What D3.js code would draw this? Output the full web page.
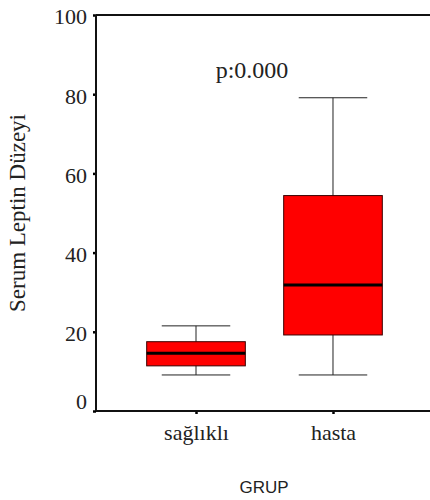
<!DOCTYPE html>
<html>
<head>
<meta charset="utf-8">
<script src="https://cdn.jsdelivr.net/npm/d3@7"></script>
<style>
  body { margin: 0; background: #fff; }
  svg { display: block; }
</style>
</head>
<body>
<svg id="chart"></svg>
<script>
// Box plot data
const groups = ["sağlıklı", "hasta"];
const whiskerLow = [9.1, 9.1];
const q1 = [11.4, 19.2];
const medians = [14.6, 31.8];
const q3 = [17.5, 54.4];
const whiskerHigh = [21.5, 79.1];
const yTicks = [0, 20, 40, 60, 80, 100];
const pText = "p:0.000";

const width = 430, height = 500;
const margin = { top: 15, right: 0, bottom: 89, left: 96 };
const serif = "'Liberation Serif', 'Times New Roman', serif";

const svg = d3.select("#chart")
  .attr("width", width)
  .attr("height", height);

const y = d3.scaleLinear()
  .domain([0, 100])
  .range([height - margin.bottom, margin.top]);

const x = d3.scalePoint()
  .domain(groups)
  .range([margin.left, 433])
  .padding(0.73);

const step = x.step();
const boxW = step * 0.72;
const capW = step * 0.5;

const boxes = groups.map((g, i) => ({
  g, lo: whiskerLow[i], q1: q1[i], med: medians[i], q3: q3[i], hi: whiskerHigh[i]
}));

// Whiskers
const bx = svg.append("g");
bx.selectAll(".whisker")
  .data(boxes)
  .join("line")
  .attr("x1", d => x(d.g)).attr("x2", d => x(d.g))
  .attr("y1", d => y(d.lo)).attr("y2", d => y(d.hi))
  .attr("stroke", "#222").attr("stroke-width", 1);

["lo", "hi"].forEach(k => {
  bx.selectAll(".cap-" + k)
    .data(boxes)
    .join("line")
    .attr("x1", d => x(d.g) - capW / 2).attr("x2", d => x(d.g) + capW / 2)
    .attr("y1", d => y(d[k])).attr("y2", d => y(d[k]))
    .attr("stroke", "#222").attr("stroke-width", 1);
});

// Boxes
bx.selectAll(".box")
  .data(boxes)
  .join("rect")
  .attr("x", d => x(d.g) - boxW / 2)
  .attr("width", boxW)
  .attr("y", d => y(d.q3))
  .attr("height", d => y(d.q1) - y(d.q3))
  .attr("fill", "#ff0000")
  .attr("stroke", "#3a0000")
  .attr("stroke-width", 1);

// Medians
bx.selectAll(".median")
  .data(boxes)
  .join("line")
  .attr("x1", d => x(d.g) - boxW / 2).attr("x2", d => x(d.g) + boxW / 2)
  .attr("y1", d => y(d.med)).attr("y2", d => y(d.med))
  .attr("stroke", "#000").attr("stroke-width", 3);

// Axes
const yAxis = svg.append("g")
  .attr("transform", `translate(${margin.left},0)`)
  .call(d3.axisLeft(y).tickValues(yTicks).tickSize(3).tickPadding(6));
yAxis.select(".domain").remove();
yAxis.selectAll(".tick line").attr("stroke", "#000").attr("stroke-width", 2.5);
yAxis.selectAll(".tick text")
  .attr("font-family", serif)
  .attr("font-size", 22)
  .attr("fill", "#222")
  .attr("dy", d => d === 0 ? "-0.1em" : "0.4em"); // zero label sits above the x axis

const xAxis = svg.append("g")
  .attr("transform", `translate(0,${y(0)})`)
  .call(d3.axisBottom(x).tickSize(3).tickPadding(10));
xAxis.select(".domain").remove();
xAxis.selectAll(".tick line").attr("stroke", "#000").attr("stroke-width", 2.5);
xAxis.selectAll(".tick text")
  .attr("font-family", serif)
  .attr("font-size", 22)
  .attr("fill", "#222");

// Frame lines: left, bottom, top
const frame = svg.append("g").attr("stroke", "#111").attr("stroke-width", 2);
frame.append("line")
  .attr("x1", margin.left).attr("x2", margin.left)
  .attr("y1", y(100)).attr("y2", y(0));
frame.append("line")
  .attr("x1", margin.left).attr("x2", width)
  .attr("y1", y(0)).attr("y2", y(0));
frame.append("line")
  .attr("x1", margin.left).attr("x2", width)
  .attr("y1", y(100)).attr("y2", y(100));

// Labels
svg.append("text")
  .attr("transform", `translate(25,${(y(0) + y(100)) / 2}) rotate(-90)`)
  .attr("text-anchor", "middle")
  .attr("font-family", serif)
  .attr("font-size", 23)
  .attr("fill", "#222")
  .text("Serum Leptin Düzeyi");

svg.append("text")
  .attr("x", 252)
  .attr("y", 78)
  .attr("text-anchor", "middle")
  .attr("font-family", serif)
  .attr("font-size", 24)
  .attr("fill", "#222")
  .text(pText);

svg.append("text")
  .attr("x", 264)
  .attr("y", 493)
  .attr("text-anchor", "middle")
  .attr("font-family", "'Liberation Sans', Arial, sans-serif")
  .attr("font-size", 17)
  .attr("fill", "#222")
  .text("GRUP");
</script>
</body>
</html>
